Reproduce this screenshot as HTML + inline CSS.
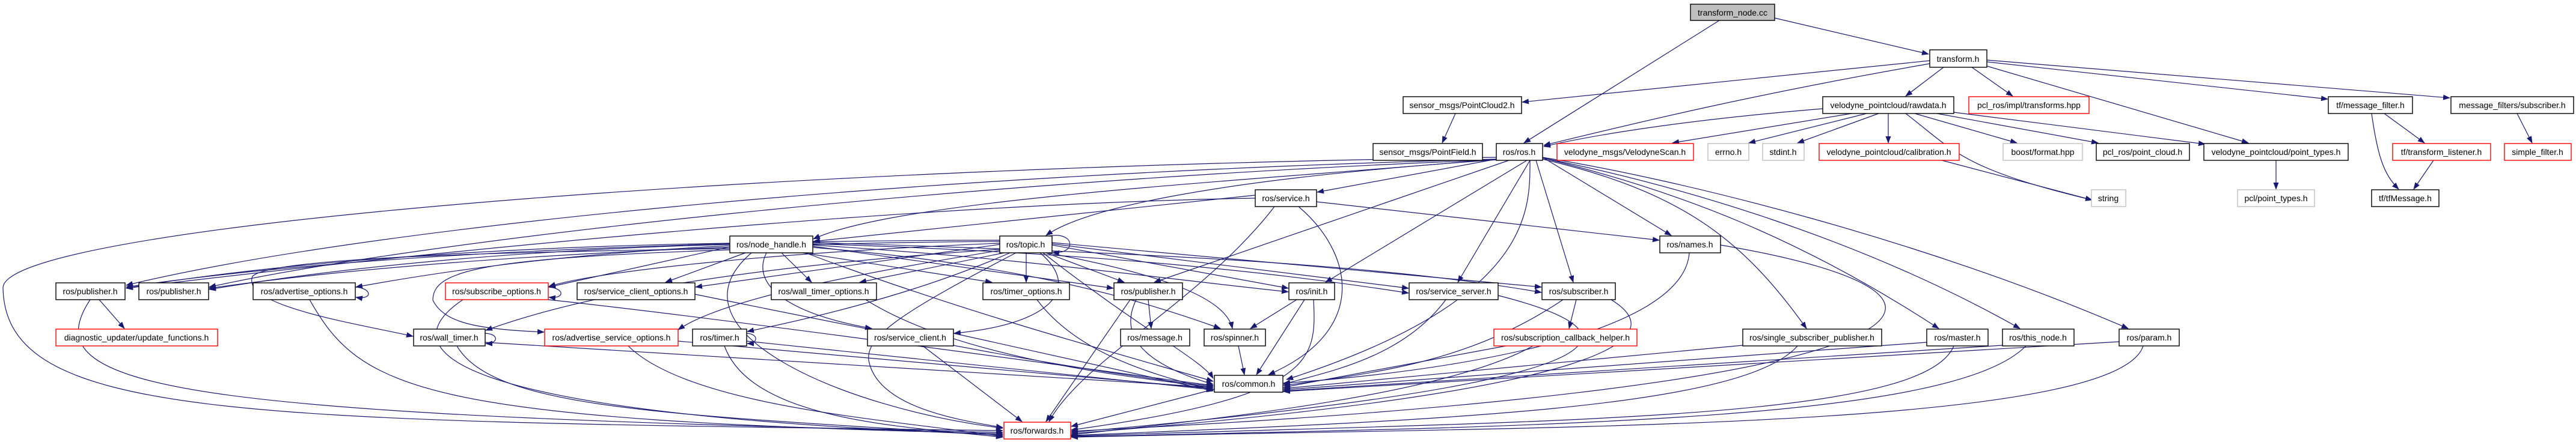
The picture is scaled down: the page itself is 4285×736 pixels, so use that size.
<!DOCTYPE html>
<html><head><meta charset="utf-8"><style>
html,body{margin:0;padding:0;background:#fff;}
svg{display:block}
text{font-family:"Liberation Sans",sans-serif;font-size:14px;text-anchor:middle;dominant-baseline:central;fill:#000}
.n{fill:#fff;stroke:#000;stroke-width:1.4}
.r{fill:#fff;stroke:#ff0000;stroke-width:1.4}
.g{fill:#fff;stroke:#bfbfbf;stroke-width:1.4}
.e path{fill:none;stroke:#191970;stroke-width:1.2;marker-end:url(#a)}
</style></head><body>
<svg width="4285" height="736" viewBox="0 0 4285 736" xmlns="http://www.w3.org/2000/svg">
<defs><marker id="a" markerUnits="userSpaceOnUse" markerWidth="12" markerHeight="9" refX="11" refY="4.5" orient="auto"><path d="M0,0 L12,4.5 L0,9 z" fill="#191970"/></marker></defs>
<g class="e">
<path d="M2860,34 L2535,238"/>
<path d="M2952,30 L3208,90"/>
<path d="M3210,101 L2532,170"/>
<path d="M3210,106 C2900,160 2700,210 2568,242"/>
<path d="M3233,112 L3170,160"/>
<path d="M3280,112 L3348,160"/>
<path d="M3305,110 L3740,238"/>
<path d="M3305,103 L3872,165"/>
<path d="M3305,100 L4075,163"/>
<path d="M2421,189 L2399,238"/>
<path d="M3032,181 C2800,200 2650,225 2568,244"/>
<path d="M3080,189 L2782,238"/>
<path d="M3105,189 L2909,238"/>
<path d="M3125,189 L2990,238"/>
<path d="M3141,189 L3141,238"/>
<path d="M3185,189 L3355,238"/>
<path d="M3222,189 L3490,238"/>
<path d="M3250,187 L3668,240"/>
<path d="M3170,189 C3250,250 3260,280 3480,333"/>
<path d="M3230,267 L3480,333"/>
<path d="M3786,267 L3786,315"/>
<path d="M3945,189 C3955,260 3965,290 3990,315"/>
<path d="M3966,189 L4033,238"/>
<path d="M4048,267 L4015,315"/>
<path d="M4187,189 L4212,238"/>
<path d="M2489,265 L2191,320"/>
<path d="M2489,265 C2100,300 1500,330 1353,398"/>
<path d="M2490,266 C2000,300 1800,350 1740,392"/>
<path d="M2489,265 C1500,290 600,380 210,475"/>
<path d="M2489,266 C1600,300 700,400 348,478"/>
<path d="M2510,267 L1920,470"/>
<path d="M2540,267 L2205,470"/>
<path d="M2545,267 L2425,470"/>
<path d="M2555,267 L2617,470"/>
<path d="M2566,262 L2780,392"/>
<path d="M2566,265 C2800,320 2900,400 3005,547"/>
<path d="M2566,263 C2800,320 3000,400 3225,547"/>
<path d="M2566,263 C2800,310 3100,400 3360,547"/>
<path d="M2566,262 C2800,300 3200,400 3540,547"/>
<path d="M2545,267 C2545,350 2550,500 2140,632"/>
<path d="M2489,262 C1200,280 0,380 5,480 C10,700 400,700 1668,717"/>
<path d="M2088,325 L1353,402"/>
<path d="M2190,336 L2760,400"/>
<path d="M2160,344 C2250,420 2280,550 2110,624"/>
<path d="M2120,344 C2000,500 1800,600 1745,702"/>
<path d="M2088,330 C1500,340 700,420 210,480"/>
<path d="M1214,405 C900,410 500,430 210,480"/>
<path d="M1214,407 C900,415 600,440 348,482"/>
<path d="M1214,409 C1000,420 800,440 592,478"/>
<path d="M1214,411 L913,478"/>
<path d="M1240,421 L1107,470"/>
<path d="M1300,421 L1350,470"/>
<path d="M1335,421 L1650,470"/>
<path d="M1352,410 L1852,480"/>
<path d="M1352,408 C1700,430 1900,460 2143,486"/>
<path d="M1352,406 C1800,420 2100,450 2343,488"/>
<path d="M1352,404 C1900,420 2300,440 2564,487"/>
<path d="M1214,414 C800,420 450,430 420,460 C400,510 600,540 687,560"/>
<path d="M1214,416 C800,430 720,450 720,500 C740,540 800,548 905,553"/>
<path d="M1275,421 C1250,470 1300,520 1450,547"/>
<path d="M1340,421 C1600,520 1900,600 2018,635"/>
<path d="M1250,421 C1100,550 1400,680 1668,713"/>
<path d="M1352,412 C1700,440 1900,500 2030,547"/>
<path d="M1745,393 C1790,385 1790,425 1751,420"/>
<path d="M1663,400 C1200,400 600,420 210,478"/>
<path d="M1663,402 C1200,405 700,430 348,480"/>
<path d="M1663,405 C1300,420 1000,450 913,477"/>
<path d="M1663,407 L1157,478"/>
<path d="M1670,421 L1430,470"/>
<path d="M1707,421 L1707,470"/>
<path d="M1740,421 L1870,470"/>
<path d="M1750,408 L2143,480"/>
<path d="M1750,406 L2343,480"/>
<path d="M1750,404 L2564,478"/>
<path d="M1742,421 C1950,460 2040,500 2050,547"/>
<path d="M1680,421 C1500,500 1300,540 1243,552"/>
<path d="M1663,415 C1300,440 1000,480 808,550"/>
<path d="M1663,417 C1400,460 1200,500 1128,549"/>
<path d="M1730,421 C1800,480 1750,540 1587,555"/>
<path d="M1735,421 C1900,550 2000,600 2018,630"/>
<path d="M1690,421 C1500,520 1440,560 1445,600 C1460,680 1600,700 1668,712"/>
<path d="M1910,499 L1915,547"/>
<path d="M1890,499 C1850,580 1950,620 2018,640"/>
<path d="M1880,499 L1740,702"/>
<path d="M2810,421 C2800,560 2400,620 2135,638"/>
<path d="M2862,408 C3400,500 3200,650 1782,718"/>
<path d="M2157,499 L2080,547"/>
<path d="M2170,499 L2090,624"/>
<path d="M2185,499 C2190,600 2190,660 1782,716"/>
<path d="M2060,576 L2070,624"/>
<path d="M2405,499 C2330,600 2200,620 2135,640"/>
<path d="M2492,492 C2760,560 2700,640 1782,720"/>
<path d="M2600,499 C2450,600 2300,620 2135,642"/>
<path d="M2622,499 L2610,547"/>
<path d="M2680,499 C2780,560 2700,650 1782,722"/>
<path d="M2505,576 L2135,645"/>
<path d="M2550,576 C2400,660 2000,700 1782,724"/>
<path d="M2899,575 L2135,647"/>
<path d="M2990,576 C2900,680 2400,700 1782,725"/>
<path d="M3205,570 L2135,649"/>
<path d="M3250,576 C3200,700 2600,700 1782,726"/>
<path d="M3331,575 L2135,651"/>
<path d="M3370,576 C3250,700 2600,710 1782,727"/>
<path d="M3525,569 L2135,652"/>
<path d="M3565,576 C3520,720 2500,710 1782,728"/>
<path d="M2020,648 L1782,710"/>
<path d="M165,499 L207,547"/>
<path d="M150,499 C50,650 300,690 1668,720"/>
<path d="M591,478 C620,480 620,500 592,495"/>
<path d="M515,499 C600,650 700,700 1668,722"/>
<path d="M912,478 C940,480 940,498 913,495"/>
<path d="M912,499 C1200,530 1700,600 2018,642"/>
<path d="M770,499 C650,580 720,690 1668,724"/>
<path d="M1156,490 C1500,560 1800,620 2018,643"/>
<path d="M1440,499 C1600,600 1900,630 2018,645"/>
<path d="M807,555 C830,556 830,572 808,572"/>
<path d="M807,570 L2018,645"/>
<path d="M760,576 C820,680 1100,690 1668,725"/>
<path d="M1128,568 L2018,647"/>
<path d="M1045,576 C1150,680 1500,700 1668,727"/>
<path d="M1242,555 C1262,556 1262,572 1243,572"/>
<path d="M1242,568 L2018,649"/>
<path d="M1205,576 C1250,700 1500,710 1668,728"/>
<path d="M1725,499 C1800,600 1950,630 2018,650"/>
<path d="M1586,555 L2018,651"/>
<path d="M1535,576 L1700,702"/>
</g>
<g>
<rect x="2812" y="7" width="140" height="27" fill="#bfbfbf" stroke="#000" stroke-width="1.4"/><text x="2882" y="21">transform_node.cc</text>
<rect class="n" x="3210" y="83" width="95" height="29"/><text x="3257" y="98">transform.h</text>
<rect class="n" x="2334" y="161" width="197" height="28"/><text x="2432" y="175">sensor_msgs/PointCloud2.h</text>
<rect class="n" x="3032" y="161" width="218" height="28"/><text x="3141" y="175">velodyne_pointcloud/rawdata.h</text>
<rect class="r" x="3275" y="161" width="200" height="28"/><text x="3375" y="175">pcl_ros/impl/transforms.hpp</text>
<rect class="n" x="3873" y="161" width="140" height="28"/><text x="3943" y="175">tf/message_filter.h</text>
<rect class="n" x="4077" y="161" width="204" height="28"/><text x="4179" y="175">message_filters/subscriber.h</text>
<rect class="n" x="2284" y="239" width="182" height="28"/><text x="2375" y="253">sensor_msgs/PointField.h</text>
<rect class="n" x="2489" y="239" width="77" height="28"/><text x="2527" y="253">ros/ros.h</text>
<rect class="r" x="2590" y="239" width="227" height="28"/><text x="2703" y="253">velodyne_msgs/VelodyneScan.h</text>
<rect class="g" x="2841" y="239" width="68" height="28"/><text x="2875" y="253">errno.h</text>
<rect class="g" x="2932" y="239" width="69" height="28"/><text x="2966" y="253">stdint.h</text>
<rect class="r" x="3026" y="239" width="233" height="28"/><text x="3142" y="253">velodyne_pointcloud/calibration.h</text>
<rect class="g" x="3332" y="239" width="132" height="28"/><text x="3398" y="253">boost/format.hpp</text>
<rect class="n" x="3487" y="239" width="155" height="28"/><text x="3564" y="253">pcl_ros/point_cloud.h</text>
<rect class="n" x="3666" y="239" width="240" height="28"/><text x="3786" y="253">velodyne_pointcloud/point_types.h</text>
<rect class="r" x="3980" y="239" width="163" height="28"/><text x="4061" y="253">tf/transform_listener.h</text>
<rect class="r" x="4166" y="239" width="111" height="28"/><text x="4221" y="253">simple_filter.h</text>
<rect class="n" x="2088" y="316" width="102" height="28"/><text x="2139" y="330">ros/service.h</text>
<rect class="g" x="3479" y="316" width="57" height="28"/><text x="3507" y="330">string</text>
<rect class="g" x="3722" y="316" width="128" height="28"/><text x="3786" y="330">pcl/point_types.h</text>
<rect class="n" x="3945" y="316" width="112" height="28"/><text x="4001" y="330">tf/tfMessage.h</text>
<rect class="n" x="1214" y="393" width="138" height="28"/><text x="1283" y="407">ros/node_handle.h</text>
<rect class="n" x="1663" y="393" width="87" height="28"/><text x="1706" y="407">ros/topic.h</text>
<rect class="n" x="2761" y="393" width="101" height="28"/><text x="2811" y="407">ros/names.h</text>
<rect class="n" x="93" y="471" width="115" height="28"/><text x="150" y="485">ros/publisher.h</text>
<rect class="n" x="231" y="471" width="116" height="28"/><text x="289" y="485">ros/publisher.h</text>
<rect class="n" x="421" y="471" width="170" height="28"/><text x="506" y="485">ros/advertise_options.h</text>
<rect class="r" x="741" y="471" width="171" height="28"/><text x="826" y="485">ros/subscribe_options.h</text>
<rect class="n" x="960" y="471" width="196" height="28"/><text x="1058" y="485">ros/service_client_options.h</text>
<rect class="n" x="1283" y="471" width="175" height="28"/><text x="1370" y="485">ros/wall_timer_options.h</text>
<rect class="n" x="1635" y="471" width="144" height="28"/><text x="1707" y="485">ros/timer_options.h</text>
<rect class="n" x="1853" y="471" width="114" height="28"/><text x="1910" y="485">ros/publisher.h</text>
<rect class="n" x="2144" y="471" width="76" height="28"/><text x="2182" y="485">ros/init.h</text>
<rect class="n" x="2344" y="471" width="148" height="28"/><text x="2418" y="485">ros/service_server.h</text>
<rect class="n" x="2565" y="471" width="122" height="28"/><text x="2626" y="485">ros/subscriber.h</text>
<rect class="r" x="93" y="548" width="269" height="28"/><text x="227" y="562">diagnostic_updater/update_functions.h</text>
<rect class="n" x="688" y="548" width="119" height="28"/><text x="747" y="562">ros/wall_timer.h</text>
<rect class="r" x="906" y="548" width="222" height="28"/><text x="1017" y="562">ros/advertise_service_options.h</text>
<rect class="n" x="1152" y="548" width="90" height="28"/><text x="1197" y="562">ros/timer.h</text>
<rect class="n" x="1443" y="548" width="143" height="28"/><text x="1514" y="562">ros/service_client.h</text>
<rect class="n" x="1864" y="548" width="115" height="28"/><text x="1921" y="562">ros/message.h</text>
<rect class="n" x="2003" y="548" width="102" height="28"/><text x="2054" y="562">ros/spinner.h</text>
<rect class="r" x="2485" y="548" width="238" height="28"/><text x="2604" y="562">ros/subscription_callback_helper.h</text>
<rect class="n" x="2899" y="548" width="231" height="28"/><text x="3014" y="562">ros/single_subscriber_publisher.h</text>
<rect class="n" x="3205" y="548" width="102" height="28"/><text x="3256" y="562">ros/master.h</text>
<rect class="n" x="3331" y="548" width="119" height="28"/><text x="3390" y="562">ros/this_node.h</text>
<rect class="n" x="3525" y="548" width="100" height="28"/><text x="3575" y="562">ros/param.h</text>
<rect class="n" x="2020" y="625" width="114" height="28"/><text x="2077" y="639">ros/common.h</text>
<rect class="r" x="1670" y="703" width="111" height="28"/><text x="1725" y="717">ros/forwards.h</text>
</g>
</svg>
</body></html>
